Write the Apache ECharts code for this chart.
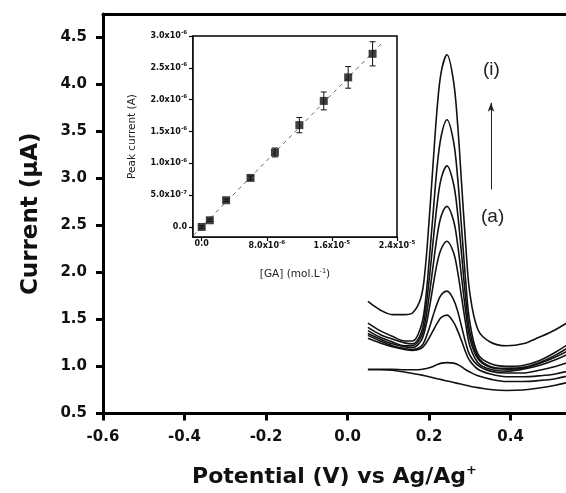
<!DOCTYPE html>
<html>
<head>
<meta charset="utf-8">
<script src="https://cdn.jsdelivr.net/npm/echarts@6/dist/echarts.min.js"></script>
<style>
html, body { margin: 0; padding: 0; background: #fff; }
#chart { width: 566px; height: 493px; }
</style>
</head>
<body>
<div id="chart"></div>
<script>
// DPV curves (a)..(i): potential (V) vs current (µA)
const potentials = [0.05, 0.08, 0.11, 0.14, 0.16, 0.18, 0.19, 0.20, 0.21, 0.22, 0.23, 0.244, 0.26, 0.27, 0.28, 0.29, 0.30, 0.32, 0.35, 0.39, 0.43, 0.47, 0.51, 0.56];
const curveA = [0.965, 0.965, 0.96, 0.94, 0.925, 0.91, 0.90, 0.89, 0.88, 0.87, 0.86, 0.845, 0.83, 0.82, 0.81, 0.80, 0.79, 0.775, 0.755, 0.745, 0.75, 0.77, 0.80, 0.85];
const curveB = [0.97, 0.97, 0.97, 0.965, 0.965, 0.967, 0.975, 0.985, 1.00, 1.02, 1.035, 1.04, 1.035, 1.02, 0.995, 0.965, 0.94, 0.90, 0.865, 0.84, 0.84, 0.85, 0.87, 0.92];
const curveC = [1.30, 1.25, 1.21, 1.18, 1.17, 1.19, 1.23, 1.30, 1.38, 1.46, 1.52, 1.545, 1.47, 1.38, 1.27, 1.15, 1.06, 0.97, 0.92, 0.89, 0.89, 0.90, 0.92, 0.97];
const curveD = [1.33, 1.27, 1.22, 1.19, 1.18, 1.21, 1.28, 1.40, 1.54, 1.67, 1.76, 1.80, 1.71, 1.59, 1.42, 1.25, 1.12, 1.01, 0.95, 0.93, 0.93, 0.96, 1.00, 1.07];
const curveE = [1.35, 1.29, 1.24, 1.21, 1.20, 1.27, 1.39, 1.60, 1.86, 2.10, 2.25, 2.33, 2.21, 2.01, 1.73, 1.45, 1.22, 1.04, 0.97, 0.95, 0.97, 1.01, 1.07, 1.17];
const curveF = [1.38, 1.31, 1.26, 1.22, 1.22, 1.31, 1.46, 1.74, 2.07, 2.39, 2.60, 2.70, 2.55, 2.30, 1.94, 1.58, 1.30, 1.08, 0.99, 0.97, 0.98, 1.03, 1.10, 1.21];
const curveG = [1.415, 1.34, 1.29, 1.25, 1.24, 1.35, 1.55, 1.91, 2.33, 2.73, 3.00, 3.13, 2.94, 2.63, 2.18, 1.72, 1.37, 1.10, 1.00, 0.98, 0.99, 1.04, 1.12, 1.25];
const curveH = [1.46, 1.38, 1.32, 1.27, 1.27, 1.42, 1.65, 2.11, 2.63, 3.13, 3.45, 3.62, 3.39, 3.01, 2.46, 1.90, 1.47, 1.13, 1.03, 1.00, 1.01, 1.06, 1.15, 1.29];
const curveI = [1.69, 1.60, 1.55, 1.55, 1.57, 1.73, 2.01, 2.54, 3.16, 3.75, 4.13, 4.31, 4.03, 3.58, 2.93, 2.29, 1.78, 1.39, 1.26, 1.22, 1.24, 1.31, 1.39, 1.52];
const curves = [curveA, curveB, curveC, curveD, curveE, curveF, curveG, curveH, curveI];

const mainXTicks = [-0.6, -0.4, -0.2, 0.0, 0.2, 0.4];
const mainYTicks = [0.5, 1.0, 1.5, 2.0, 2.5, 3.0, 3.5, 4.0, 4.5];

// inset: calibration plot
const concGA = [0, 1.0e-6, 3.0e-6, 6.0e-6, 9.0e-6, 1.2e-5, 1.5e-5, 1.8e-5, 2.1e-5];
const peakCurrent = [0, 1.05e-7, 4.2e-7, 7.7e-7, 1.17e-6, 1.6e-6, 1.98e-6, 2.35e-6, 2.72e-6];
const peakError = [2e-8, 2e-8, 2e-8, 3e-8, 7e-8, 1.2e-7, 1.4e-7, 1.7e-7, 1.9e-7];
const fitX = [-1.0e-6, 2.24e-5];
const fitY = [-1.3e-7, 2.92e-6];

const insetXTicks = [0, 8e-6, 1.6e-5, 2.4e-5];
const insetXMant = ['0.0', '8.0x10', '1.6x10', '2.4x10'];
const insetXExp = ['', '-6', '-5', '-5'];
const insetYTicks = [0, 5e-7, 1e-6, 1.5e-6, 2e-6, 2.5e-6, 3e-6];
const insetYMant = ['0.0', '5.0x10', '1.0x10', '1.5x10', '2.0x10', '2.5x10', '3.0x10'];
const insetYExp = ['', '-7', '-6', '-6', '-6', '-6', '-6'];

const FONT = 'DejaVu Sans';
const X_MIN = -0.6, X_MAX = 0.536;

function sciLabel(ticks, mant, exp) {
  return v => {
    const i = ticks.findIndex(t => Math.abs(t - v) < 1e-12);
    if (i < 0) return '';
    return exp[i] ? '{m|' + mant[i] + '}{e|' + exp[i] + '}' : '{m|' + mant[i] + '}';
  };
}
const sciRich = {
  m: { fontFamily: FONT, fontSize: 8, fontWeight: 'bold', color: '#111' },
  e: { fontFamily: FONT, fontSize: 5.5, fontWeight: 'bold', color: '#111', verticalAlign: 'top', padding: [0, 0, 6, 0] }
};

const chart = echarts.init(document.getElementById('chart'));

const curveSeries = curves.map(c => ({
  type: 'line',
  xAxisIndex: 0,
  yAxisIndex: 0,
  data: potentials.map((p, j) => [p, c[j]]),
  showSymbol: false,
  smooth: 0.35,
  lineStyle: { color: '#111', width: 1.6 },
  silent: true,
  z: 2
}));

const option = {
  backgroundColor: '#fff',
  animation: false,
  grid: [
    { left: 103, right: 0, top: 14, bottom: 77 },
    { left: 193, top: 36, width: 204, height: 201, show: true, borderColor: '#000', borderWidth: 1.5, backgroundColor: '#fff', z: 5 }
  ],
  xAxis: [
    {
      gridIndex: 0,
      type: 'value',
      min: X_MIN, max: X_MAX,
      splitLine: { show: false },
      axisLine: { onZero: false, lineStyle: { color: '#000', width: 3 } },
      axisTick: { length: 7, lineStyle: { width: 3, color: '#000' }, customValues: mainXTicks },
      axisLabel: {
        customValues: mainXTicks,
        formatter: v => v.toFixed(1),
        fontFamily: FONT, fontWeight: 'bold', fontSize: 15, color: '#111', margin: 16
      },
      name: '{t|Potential (V) vs Ag/Ag}{s|+}',
      nameLocation: 'middle',
      nameGap: 51,
      nameTextStyle: {
        rich: {
          t: { fontFamily: FONT, fontWeight: 'bold', fontSize: 22, color: '#111' },
          s: { fontFamily: FONT, fontWeight: 'bold', fontSize: 13, color: '#111', verticalAlign: 'top', padding: [0, 0, 12, 0] }
        }
      }
    },
    {
      gridIndex: 1,
      type: 'value',
      min: -1.07e-6, max: 2.4e-5,
      splitLine: { show: false },
      axisLine: { onZero: false, lineStyle: { color: '#000', width: 1.5 } },
      axisTick: { length: 4, lineStyle: { width: 1.2, color: '#000' }, customValues: insetXTicks },
      axisLabel: {
        customValues: insetXTicks,
        formatter: sciLabel(insetXTicks, insetXMant, insetXExp),
        rich: sciRich, margin: 3
      },
      name: '[GA] (mol.L{e|-1})',
      nameLocation: 'middle',
      nameGap: 31,
      nameTextStyle: {
        fontFamily: FONT, fontSize: 10.5, color: '#222',
        rich: { e: { fontFamily: FONT, fontSize: 6.5, color: '#222', verticalAlign: 'top', padding: [0, 0, 6, 0] } }
      }
    },
    {
      // top frame line of the main plot
      gridIndex: 0,
      type: 'value',
      position: 'top',
      min: X_MIN, max: X_MAX,
      splitLine: { show: false },
      axisLine: { onZero: false, lineStyle: { color: '#000', width: 3 } },
      axisTick: { show: false },
      axisLabel: { show: false }
    }
  ],
  yAxis: [
    {
      gridIndex: 0,
      type: 'value',
      min: 0.5, max: 4.743,
      splitLine: { show: false },
      axisLine: { onZero: false, lineStyle: { color: '#000', width: 3 } },
      axisTick: { length: 7, lineStyle: { width: 3, color: '#000' }, customValues: mainYTicks },
      axisLabel: {
        customValues: mainYTicks,
        formatter: v => v.toFixed(1),
        fontFamily: FONT, fontWeight: 'bold', fontSize: 15, color: '#111', margin: 16
      },
      name: 'Current (µA)',
      nameLocation: 'middle',
      nameGap: 60,
      nameTextStyle: { fontFamily: FONT, fontWeight: 'bold', fontSize: 23, color: '#111' }
    },
    {
      gridIndex: 1,
      type: 'value',
      min: -1.58e-7, max: 3.0e-6,
      splitLine: { show: false },
      axisLine: { onZero: false, lineStyle: { color: '#000', width: 1.5 } },
      axisTick: { length: 4, lineStyle: { width: 1.2, color: '#000' }, customValues: insetYTicks },
      axisLabel: {
        customValues: insetYTicks,
        formatter: sciLabel(insetYTicks, insetYMant, insetYExp),
        rich: sciRich, margin: 6
      },
      name: 'Peak current (A)',
      nameLocation: 'middle',
      nameGap: 55,
      nameTextStyle: { fontFamily: FONT, fontSize: 10.5, color: '#222' }
    }
  ],
  graphic: [
    { type: 'text', left: 483, top: 60, style: { text: '(i)', font: '19px "Liberation Sans", Arial', fill: '#222' }, z: 10 },
    { type: 'text', left: 481, top: 207, style: { text: '(a)', font: '19px "Liberation Sans", Arial', fill: '#222' }, z: 10 }
  ],
  series: curveSeries.concat([
    {
      // arrow from (a) to (i)
      type: 'line',
      xAxisIndex: 0, yAxisIndex: 0,
      data: [],
      markLine: {
        silent: true,
        symbol: ['none', 'arrow'],
        symbolSize: [5, 9],
        label: { show: false },
        lineStyle: { color: '#222', width: 1, type: 'solid' },
        data: [[{ coord: [0.352, 2.88] }, { coord: [0.352, 3.80] }]]
      }
    },
    {
      type: 'line',
      xAxisIndex: 1, yAxisIndex: 1,
      data: fitX.map((x, i) => [x, fitY[i]]),
      showSymbol: false,
      lineStyle: { color: '#666', width: 1, type: [4, 4] },
      silent: true,
      z: 6
    },
    {
      type: 'custom',
      xAxisIndex: 1, yAxisIndex: 1,
      data: concGA.map((x, i) => [x, peakCurrent[i] - peakError[i], peakCurrent[i] + peakError[i]]),
      renderItem: (params, api) => {
        const lo = api.coord([api.value(0), api.value(1)]);
        const hi = api.coord([api.value(0), api.value(2)]);
        const w = 3;
        const st = { stroke: '#111', lineWidth: 1 };
        return {
          type: 'group',
          children: [
            { type: 'line', shape: { x1: lo[0], y1: lo[1], x2: hi[0], y2: hi[1] }, style: st },
            { type: 'line', shape: { x1: lo[0] - w, y1: lo[1], x2: lo[0] + w, y2: lo[1] }, style: st },
            { type: 'line', shape: { x1: hi[0] - w, y1: hi[1], x2: hi[0] + w, y2: hi[1] }, style: st }
          ]
        };
      },
      silent: true,
      z: 7
    },
    {
      type: 'scatter',
      xAxisIndex: 1, yAxisIndex: 1,
      data: concGA.map((x, i) => [x, peakCurrent[i]]),
      symbol: 'rect',
      symbolSize: 8,
      itemStyle: { color: '#111' },
      silent: true,
      z: 8
    }
  ])
};

chart.setOption(option);
</script>
</body>
</html>
